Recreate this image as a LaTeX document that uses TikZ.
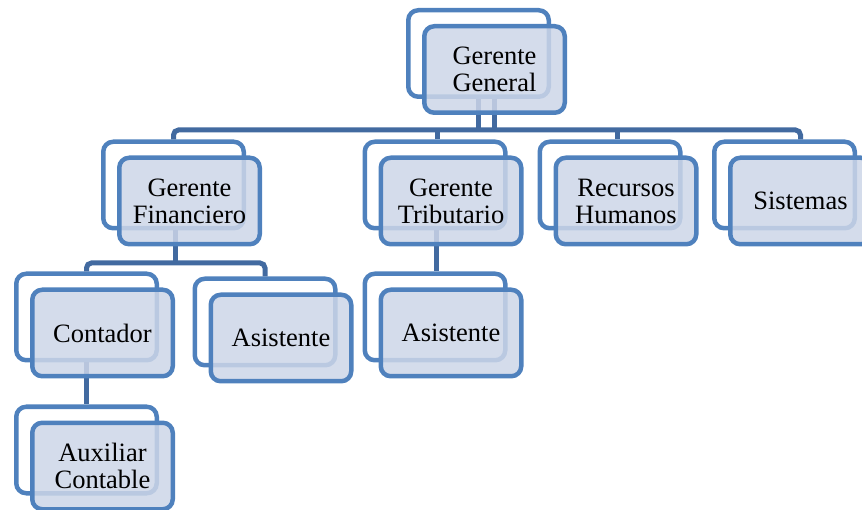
\documentclass[tikz,border=0pt]{standalone}
\usepackage{fontspec}
\setmainfont{Liberation Serif}

\definecolor{boxblue}{RGB}{79,129,189}
\definecolor{linkblue}{RGB}{66,106,160}
\definecolor{boxfill}{RGB}{205,214,232}

\tikzset{
  backbox/.style={draw=boxblue, line width=4.5pt, rounded corners=10pt,
    minimum width=140.5pt, minimum height=86.5pt, inner sep=0pt},
  frontbox/.style={backbox, fill=boxfill, fill opacity=0.85, text opacity=1,
    align=center, font=\fontsize{26.5}{27}\selectfont},
  link/.style={draw=linkblue, line width=5pt, rounded corners=5pt}
}

\begin{document}
\begin{tikzpicture}[x=1pt,y=-1pt]

  \useasboundingbox (0,0) rectangle (862,510);

  % back boxes
  \node[backbox] (ggb) at (478.5,53.5) {};
  \node[backbox] (gfb) at (173.5,185) {};
  \node[backbox] (gtb) at (435,185) {};
  \node[backbox] (rhb) at (610,185) {};
  \node[backbox] (sisb) at (784.5,185) {};
  \node[backbox] (contb) at (86.5,317) {};
  \node[backbox] (asisab) at (265,322) {};
  \node[backbox] (asisbb) at (435,317) {};
  \node[backbox] (auxb) at (86.5,450) {};

  % connectors
  \coordinate (busA) at (0,130);
  \coordinate (busB) at (0,263);
  \draw[link] (ggb.south) -- (ggb.south |- busA);
  \draw[link] ([xshift=16pt]ggb.south) -- ([xshift=16pt]ggb.south |- busA);
  \draw[link] (gfb.north) |- ([xshift=16pt]sisb.north |- busA) -- ([xshift=16pt]sisb.north);
  \draw[link] ([xshift=2pt]gtb.north) -- ([xshift=2pt]gtb.north |- busA);
  \draw[link] ([xshift=7pt]rhb.north) -- ([xshift=7pt]rhb.north |- busA);

  \draw[link] ([xshift=2pt]gfb.south) -- ([xshift=2pt]gfb.south |- busB);
  \draw[link] (contb.north) |- (asisab.north |- busB) -- (asisab.north);
  \draw[link] ([xshift=1pt]gtb.south) -- ([xshift=1pt]asisbb.north);
  \draw[link] (contb.south) -- (auxb.north);

  % front boxes
  \node[frontbox] (gg) at ([shift={(16,16)}]ggb.center) {Gerente\\General};
  \node[frontbox] (gf) at ([shift={(16,16)}]gfb.center) {Gerente\\Financiero};
  \node[frontbox] (gt) at ([shift={(16,16)}]gtb.center) {Gerente\\Tributario};
  \node[frontbox] (rh) at ([shift={(16,16)}]rhb.center) {Recursos\\Humanos};
  \node[frontbox] (sis) at ([shift={(16,16)}]sisb.center) {Sistemas};
  \node[frontbox] (cont) at ([shift={(16,16)}]contb.center) {Contador};
  \node[frontbox] (asisa) at ([shift={(16,16)}]asisab.center) {Asistente};
  \node[frontbox] (asisb) at ([shift={(16,16)}]asisbb.center) {Asistente};
  \node[frontbox] (aux) at ([shift={(16,16)}]auxb.center) {Auxiliar\\Contable};

\end{tikzpicture}
\end{document}
